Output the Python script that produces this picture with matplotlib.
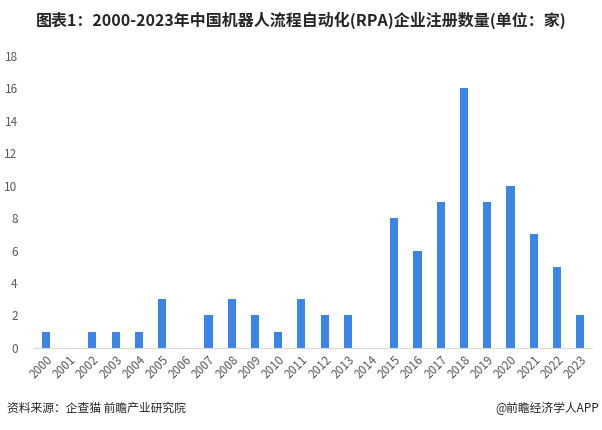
import matplotlib
matplotlib.use("Agg")
import matplotlib.pyplot as plt

plt.rcParams['font.family'] = ['Noto Sans CJK SC', 'DejaVu Sans']

years = [str(y) for y in range(2000, 2024)]
counts = [1, 0, 1, 1, 1, 3, 0, 2, 3, 2, 1, 3, 2, 2, 0, 8, 6, 9, 16, 9, 10, 7, 5, 2]

title = "图表1：2000-2023年中国机器人流程自动化(RPA)企业注册数量(单位：家)"
source = "资料来源：企查猫 前瞻产业研究院"
credit = "@前瞻经济学人APP"


def main():
    fig = plt.figure(figsize=(6.02, 4.30), dpi=100)
    ax = fig.add_axes([0.057, 0.191, 0.926, 0.679])

    ax.bar(range(len(years)), counts, width=0.35, color="#3A86E6")
    ax.set_xlim(-0.5, len(years) - 0.5)
    ax.set_ylim(0, 18)
    ax.set_yticks(range(0, 19, 2))
    ax.set_xticks(range(len(years)))
    ax.set_xticklabels(years, rotation=45, ha="right", rotation_mode="anchor")

    for s in ["top", "right", "left"]:
        ax.spines[s].set_visible(False)
    ax.spines["bottom"].set_color("#D9D9D9")
    ax.tick_params(axis="both", length=0, labelsize=8.5, colors="#595959")
    ax.tick_params(axis="y", pad=12)
    ax.tick_params(axis="x", pad=4)

    fig.text(0.5, 0.953, title, ha="center", va="center",
             fontsize=11.5, fontweight="bold", color="#262626")
    fig.text(0.012, 0.05, source, ha="left", va="center",
             fontsize=8.5, color="#262626")
    fig.text(0.995, 0.05, credit, ha="right", va="center",
             fontsize=8.5, color="#262626")

    fig.savefig("out.png", dpi=100)


if __name__ == "__main__":
    main()
